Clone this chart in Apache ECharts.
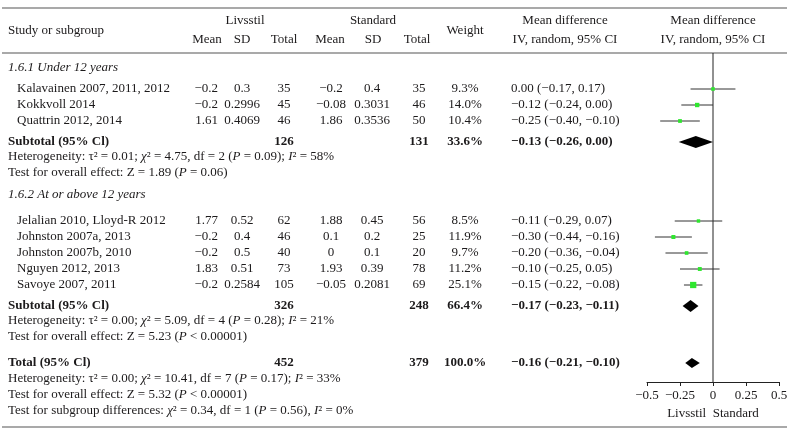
<!DOCTYPE html>
<html>
<head>
<meta charset="utf-8">
<script src="https://cdn.jsdelivr.net/npm/echarts@6/dist/echarts.min.js"></script>
<style>
  html, body { margin: 0; padding: 0; background: #fff; }
  #chart { width: 795px; height: 436px; }
</style>
</head>
<body>
<div id="chart"></div>
<script>
// study rows
const studies = ['Kalavainen 2007, 2011, 2012', 'Kokkvoll 2014', 'Quattrin 2012, 2014',
  'Jelalian 2010, Lloyd-R 2012', 'Johnston 2007a, 2013', 'Johnston 2007b, 2010', 'Nguyen 2012, 2013', 'Savoye 2007, 2011'];
const livMean = [-0.2, -0.2, 1.61, 1.77, -0.2, -0.2, 1.83, -0.2];
const livSD = ['0.3', '0.2996', '0.4069', '0.52', '0.4', '0.5', '0.51', '0.2584'];
const livN = [35, 45, 46, 62, 46, 40, 73, 105];
const stdMean = [-0.2, -0.08, 1.86, 1.88, 0.1, 0, 1.93, -0.05];
const stdSD = ['0.4', '0.3031', '0.3536', '0.45', '0.2', '0.1', '0.39', '0.2081'];
const stdN = [35, 46, 50, 56, 25, 20, 78, 69];
const weight = [9.3, 14.0, 10.4, 8.5, 11.9, 9.7, 11.2, 25.1];
const md = [0.00, -0.12, -0.25, -0.11, -0.30, -0.20, -0.10, -0.15];
const lo = [-0.17, -0.24, -0.40, -0.29, -0.44, -0.36, -0.25, -0.22];
const hi = [0.17, 0.00, -0.10, 0.07, -0.16, -0.04, 0.05, -0.08];

// subtotals and total
const subLabels = ['Subtotal (95% Cl)', 'Subtotal (95% Cl)', 'Total (95% Cl)'];
const subLivN = [126, 326, 452];
const subStdN = [131, 248, 379];
const subWeight = [33.6, 66.4, 100.0];
const subMd = [-0.13, -0.17, -0.16];
const subLo = [-0.26, -0.23, -0.21];
const subHi = [0.00, -0.11, -0.10];
const tau2 = ['0.01', '0.00', '0.00'];
const chi2 = ['4.75', '5.09', '10.41'];
const df = [2, 4, 7];
const hetP = ['0.09', '0.28', '0.17'];
const i2 = [58, 21, 33];
const zVal = ['1.89', '5.23', '5.32'];
const zP = ['= 0.06', '< 0.00001', '< 0.00001'];
const groups = ['1.6.1 Under 12 years', '1.6.2 At or above 12 years'];
const xTicks = [-0.5, -0.25, 0, 0.25, 0.5];

// layout (pixel rows)
const studyY = [89, 105, 121, 221, 237, 253, 269, 285];
const subY = [142, 306, 363];
const hetY = [157, 321, 379];
const testY = [173, 337, 395];
const groupY = [68, 195];
const diffY = 411;
const diamondHalf = [6, 6, 5];

const ink = '#1c1a1b';
const serif = '"Liberation Serif", "DejaVu Serif", serif';
const fs = 13;
const minus = v => String(v).replace('-', '\u2212');
const f2 = v => (v < 0 ? '\u2212' : '') + Math.abs(v).toFixed(2);
const ci = (m, l, h) => f2(m) + ' (' + f2(l) + ', ' + f2(h) + ')';

const it = { fontStyle: 'italic', fontSize: fs, fontFamily: serif, fill: ink };

function txt(x, y, text, align, extra) {
  return {
    type: 'text', x: x, y: y, silent: true,
    style: Object.assign({
      text: text, fill: ink, fontFamily: serif, fontSize: fs,
      align: align || 'left', textAlign: align || 'left',
      verticalAlign: 'middle', textVerticalAlign: 'middle',
      rich: { i: it }
    }, extra || {})
  };
}
const bold = { fontWeight: 'bold' };
const ital = { fontStyle: 'italic' };

const g = [];
// rules
[8, 53, 427].forEach(y => g.push({
  type: 'line', silent: true, shape: { x1: 2, y1: y, x2: 787, y2: y },
  style: { stroke: '#555', lineWidth: 1.2 }
}));
// header
g.push(txt(8, 31, 'Study or subgroup'));
g.push(txt(245, 21, 'Livsstil', 'center'));
g.push(txt(373, 21, 'Standard', 'center'));
g.push(txt(207, 40, 'Mean', 'center'));
g.push(txt(242, 40, 'SD', 'center'));
g.push(txt(284, 40, 'Total', 'center'));
g.push(txt(330, 40, 'Mean', 'center'));
g.push(txt(373, 40, 'SD', 'center'));
g.push(txt(417, 40, 'Total', 'center'));
g.push(txt(465, 31, 'Weight', 'center'));
g.push(txt(565, 21, 'Mean difference', 'center'));
g.push(txt(565, 40, 'IV, random, 95% CI', 'center'));
g.push(txt(713, 21, 'Mean difference', 'center'));
g.push(txt(713, 40, 'IV, random, 95% CI', 'center'));

groups.forEach((s, k) => g.push(txt(8, groupY[k], s, 'left', ital)));

studies.forEach((s, k) => {
  const y = studyY[k];
  g.push(txt(17, y, s));
  g.push(txt(218, y, minus(livMean[k]), 'right'));
  g.push(txt(242, y, livSD[k], 'center'));
  g.push(txt(284, y, String(livN[k]), 'center'));
  g.push(txt(331, y, minus(stdMean[k]), 'center'));
  g.push(txt(372, y, stdSD[k], 'center'));
  g.push(txt(419, y, String(stdN[k]), 'center'));
  g.push(txt(465, y, weight[k].toFixed(1) + '%', 'center'));
  g.push(txt(511, y, ci(md[k], lo[k], hi[k])));
});

subLabels.forEach((s, k) => {
  const y = subY[k];
  g.push(txt(8, y, s, 'left', bold));
  g.push(txt(284, y, String(subLivN[k]), 'center', bold));
  g.push(txt(419, y, String(subStdN[k]), 'center', bold));
  g.push(txt(465, y, subWeight[k].toFixed(1) + '%', 'center', bold));
  g.push(txt(511, y, ci(subMd[k], subLo[k], subHi[k]), 'left', bold));
  g.push(txt(8, hetY[k], 'Heterogeneity: \u03c4\u00b2 = ' + tau2[k] + '; {i|\u03c7}\u00b2 = ' + chi2[k] +
    ', df = ' + df[k] + ' ({i|P} = ' + hetP[k] + '); {i|I}\u00b2 = ' + i2[k] + '%'));
  g.push(txt(8, testY[k], 'Test for overall effect: Z = ' + zVal[k] + ' ({i|P} ' + zP[k] + ')'));
});
g.push(txt(8, diffY, 'Test for subgroup differences: {i|\u03c7}\u00b2 = 0.34, df = 1 ({i|P} = 0.56), {i|I}\u00b2 = 0%'));

const studyData = studies.map((s, k) => [md[k], studyY[k], lo[k], hi[k], weight[k]]);
const diamondData = subMd.map((m, k) => [m, subY[k], subLo[k], subHi[k], diamondHalf[k]]);

function renderStudy(params, api) {
  const y = api.value(1);
  const p = api.coord([api.value(0), y]);
  const a = api.coord([api.value(2), y]);
  const b = api.coord([api.value(3), y]);
  const s = 2 + api.value(4) * 0.17;
  return {
    type: 'group',
    children: [
      { type: 'line', shape: { x1: a[0], y1: a[1], x2: b[0], y2: b[1] }, style: { stroke: '#333', lineWidth: 1 } },
      { type: 'rect', shape: { x: p[0] - s / 2, y: p[1] - s / 2, width: s, height: s }, style: { fill: '#2fe62f' } }
    ]
  };
}
function renderDiamond(params, api) {
  const y = api.value(1);
  const p = api.coord([api.value(0), y]);
  const a = api.coord([api.value(2), y]);
  const b = api.coord([api.value(3), y]);
  const h = api.value(4);
  return {
    type: 'polygon',
    shape: { points: [[a[0], p[1]], [p[0], p[1] - h], [b[0], p[1]], [p[0], p[1] + h]] },
    style: { fill: '#000' }
  };
}

const chart = echarts.init(document.getElementById('chart'));
chart.setOption({
  animation: false,
  grid: { left: 647, top: 0, width: 132, height: 382, show: false },
  xAxis: {
    type: 'value', min: xTicks[0], max: xTicks[xTicks.length - 1], interval: 0.25,
    axisLine: { onZero: false, lineStyle: { color: '#222', width: 1 } },
    axisTick: { length: 4, lineStyle: { color: '#222' } },
    splitLine: { show: false },
    axisLabel: {
      margin: 7, color: ink, fontFamily: serif, fontSize: fs,
      formatter: v => xTicks.indexOf(v) >= 0 ? minus(v) : ''
    },
    name: 'Livsstil  Standard', nameLocation: 'middle', nameGap: 25,
    nameTextStyle: { color: ink, fontFamily: serif, fontSize: fs }
  },
  yAxis: { type: 'value', min: 0, max: 382, inverse: true, show: false },
  series: [
    {
      type: 'line', data: [[0, 53], [0, 382]], symbol: 'none', silent: true,
      lineStyle: { color: '#222', width: 1 }, z: 1
    },
    { type: 'custom', renderItem: renderStudy, data: studyData, silent: true, z: 3 },
    { type: 'custom', renderItem: renderDiamond, data: diamondData, silent: true, z: 3 }
  ],
  graphic: { elements: g }
});
</script>
</body>
</html>
